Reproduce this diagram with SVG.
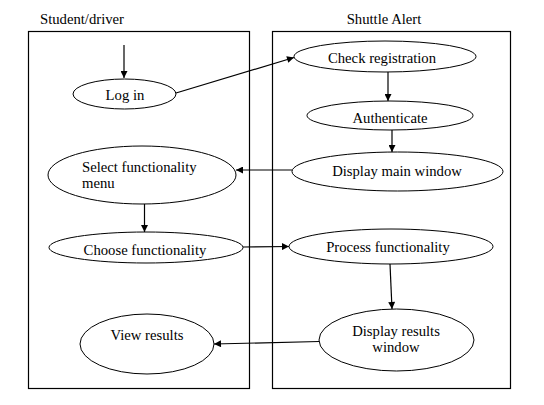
<svg xmlns="http://www.w3.org/2000/svg" width="544" height="405" viewBox="0 0 544 405">
<defs>
<marker id="ah" viewBox="0 0 10 10" refX="10" refY="5" markerWidth="9" markerHeight="7" markerUnits="userSpaceOnUse" orient="auto">
<path d="M0,0 L10,5 L0,10 Z" fill="#000"/>
</marker>
</defs>
<style>
text{font-family:"Liberation Serif","Times New Roman",serif;font-size:14.7px;fill:#000;text-anchor:middle}
.lane{fill:none;stroke:#000;stroke-width:1.2}
ellipse{fill:#fff;stroke:#000;stroke-width:1}
.c line{stroke:#000;stroke-width:1.2;marker-end:url(#ah)}
</style>
<rect width="544" height="405" fill="#fff"/>
<g id="lane-student">
<rect class="lane" x="28.5" y="31.5" width="221" height="357"/>
<text x="82" y="24">Student/driver</text>
</g>
<g id="lane-shuttle">
<rect class="lane" x="272.5" y="31.5" width="238" height="357"/>
<text x="384" y="24">Shuttle Alert</text>
</g>
<g class="c" id="connectors">
<line x1="124" y1="45" x2="124" y2="78"/>
<line x1="176" y1="93" x2="294" y2="57.5"/>
<line x1="388" y1="72" x2="388" y2="101"/>
<line x1="392" y1="130" x2="392" y2="152"/>
<line x1="292" y1="170" x2="236" y2="170"/>
<line x1="144.5" y1="204" x2="144.5" y2="232"/>
<line x1="243" y1="247" x2="289" y2="246.5"/>
<line x1="390" y1="264" x2="392" y2="309"/>
<line x1="319" y1="341.5" x2="214" y2="344"/>
</g>
<g id="login"><ellipse cx="124.5" cy="94" rx="51.5" ry="15"/><text x="125" y="100">Log in</text></g>
<g id="select-menu"><ellipse cx="142" cy="175" rx="94" ry="29"/><text x="82" y="172" style="text-anchor:start">Select functionality</text><text x="82" y="188" style="text-anchor:start">menu</text></g>
<g id="choose"><ellipse cx="146" cy="247.5" rx="97" ry="15.5"/><text x="145" y="255">Choose functionality</text></g>
<g id="view-results"><ellipse cx="147" cy="344" rx="67" ry="30"/><text x="147" y="340">View results</text></g>
<g id="check-reg"><ellipse cx="385" cy="56.5" rx="91" ry="15.5"/><text x="382" y="63">Check registration</text></g>
<g id="authenticate"><ellipse cx="390" cy="115.5" rx="83" ry="14.5"/><text x="390" y="123">Authenticate</text></g>
<g id="display-main"><ellipse cx="397.5" cy="171.5" rx="105.5" ry="19.5"/><text x="397" y="176">Display main window</text></g>
<g id="process"><ellipse cx="391" cy="246.5" rx="102" ry="17.5"/><text x="388" y="252">Process functionality</text></g>
<g id="display-results"><ellipse cx="396.5" cy="340" rx="77.5" ry="31"/><text x="396" y="336">Display results</text><text x="396" y="352">window</text></g>
</svg>
